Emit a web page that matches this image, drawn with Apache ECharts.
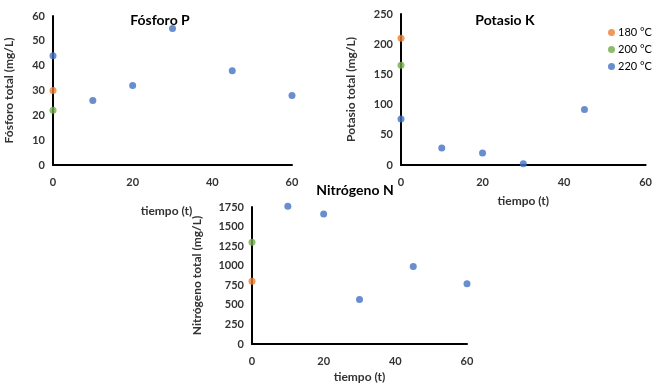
<!DOCTYPE html>
<html>
<head>
<meta charset="utf-8">
<script src="https://cdn.jsdelivr.net/npm/echarts@6/dist/echarts.min.js"></script>
<style>
  html, body {margin: 0; padding: 0; background: #fff;}
  #chart {width: 655px; height: 384px;}
</style>
</head>
<body>
<div id="chart"></div>
<script>
// tiempo (t) values
const tiempoCero = [0];
const tiempoFosforo = [0, 10, 20, 30, 45, 60];
const tiempoPotasio = [0, 10, 20, 30, 45];
const tiempoNitrogeno = [10, 20, 30, 45, 60];

// Fósforo total (mg/L)
const fosforo180 = [30];
const fosforo200 = [22];
const fosforo220 = [44, 26, 32, 55, 38, 28];

// Potasio total (mg/L)
const potasio180 = [210];
const potasio200 = [165];
const potasio220 = [76, 28, 20, 2, 92];

// Nitrógeno total (mg/L)
const nitrogeno180 = [800];
const nitrogeno200 = [1300];
const nitrogeno220 = [1760, 1660, 570, 990, 770];

const temperaturas = ['180 °C', '200 °C', '220 °C'];
const colores = ['#ED7D31', '#70AD47', '#4472C4'];

const font = 'Lato, "Open Sans", sans-serif';
const zip = (xs, ys) => xs.map((x, i) => [x, ys[i]]);

const axisLine = {show: true, lineStyle: {color: '#000', width: 2}};
const tickLabel = {fontFamily: font, fontWeight: 'bold', fontSize: 11, color: '#333', formatter: v => String(v)};
const nameStyle = {fontFamily: font, fontWeight: 'bold', fontSize: 12, color: '#333'};

const xAxis = (gridIndex, gap, pad) => ({
    type: 'value', gridIndex, min: 0, max: 60, interval: 20,
    name: 'tiempo (t)', nameLocation: 'middle', nameGap: gap,
    nameTextStyle: {...nameStyle, padding: pad},
    axisLine, axisTick: {show: false}, splitLine: {show: false},
    axisLabel: {...tickLabel, margin: 12}
});
const yAxis = (gridIndex, max, interval, name, gap) => ({
    type: 'value', gridIndex, min: 0, max, interval,
    name, nameLocation: 'middle', nameGap: gap, nameTextStyle: nameStyle,
    axisLine, axisTick: {show: false}, splitLine: {show: false},
    axisLabel: {...tickLabel, margin: 8}
});

const scatter = (idx, name, data) => ({
    type: 'scatter', name, xAxisIndex: idx, yAxisIndex: idx,
    symbolSize: 7, clip: false, data,
    itemStyle: {color: colores[temperaturas.indexOf(name)]}
});

const chart = echarts.init(document.getElementById('chart'));
chart.setOption({
    animation: false,
    textStyle: {fontFamily: font},
    title: [
        {text: 'Fósforo P', left: 155, top: 8, textAlign: 'center'},
        {text: 'Potasio K', left: 500, top: 8, textAlign: 'center'},
        {text: 'Nitrógeno N', left: 350, top: 178, textAlign: 'center'}
    ].map(t => ({...t, textStyle: {fontFamily: font, fontWeight: 'bold', fontSize: 14, color: '#000'}})),
    legend: {
        orient: 'vertical', left: 603, top: 22, itemGap: 6,
        icon: 'circle', itemWidth: 7, itemHeight: 7,
        data: temperaturas,
        textStyle: {fontFamily: font, fontSize: 11, color: '#000', padding: [0, 0, 0, -2]}
    },
    grid: [
        {left: 53, top: 16, width: 239, height: 149},
        {left: 401, top: 14, width: 247, height: 151},
        {left: 252, top: 207, width: 215, height: 140}
    ],
    xAxis: [xAxis(0, 40, [0, 12, 0, 0]), xAxis(1, 30, 0), xAxis(2, 27, 0)],
    yAxis: [
        yAxis(0, 60, 10, 'Fósforo total (mg/L)', 38),
        yAxis(1, 250, 50, 'Potasio total (mg/L)', 44),
        yAxis(2, 1750, 250, 'Nitrógeno total (mg/L)', 49)
    ],
    series: [
        scatter(0, '180 °C', zip(tiempoCero, fosforo180)),
        scatter(0, '200 °C', zip(tiempoCero, fosforo200)),
        scatter(0, '220 °C', zip(tiempoFosforo, fosforo220)),
        scatter(1, '180 °C', zip(tiempoCero, potasio180)),
        scatter(1, '200 °C', zip(tiempoCero, potasio200)),
        scatter(1, '220 °C', zip(tiempoPotasio, potasio220)),
        scatter(2, '180 °C', zip(tiempoCero, nitrogeno180)),
        scatter(2, '200 °C', zip(tiempoCero, nitrogeno200)),
        scatter(2, '220 °C', zip(tiempoNitrogeno, nitrogeno220))
    ]
});
</script>
</body>
</html>
